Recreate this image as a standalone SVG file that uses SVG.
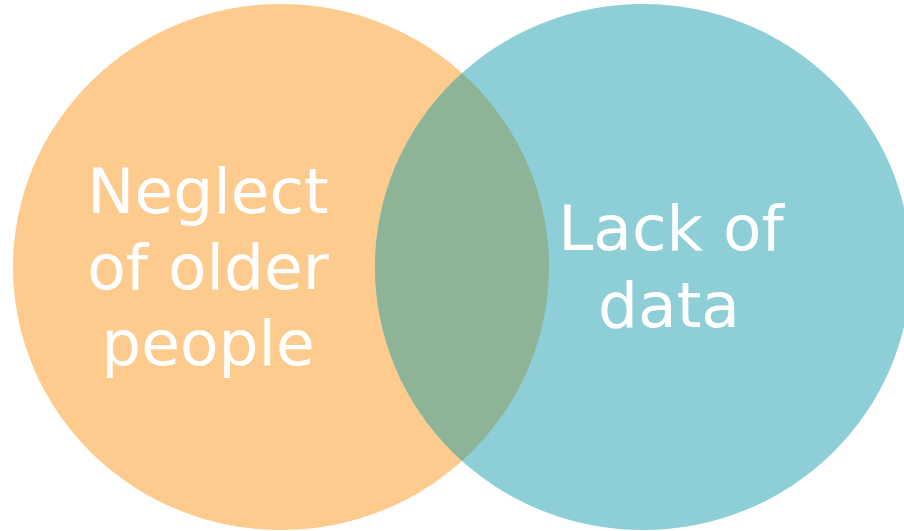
<svg xmlns="http://www.w3.org/2000/svg" width="904" height="531" viewBox="0 0 904 531">
  <style>
    .lbl { font-family: "DejaVu Sans", "Liberation Sans", sans-serif; font-size: 63px; fill: #ffffff; text-anchor: middle; }
  </style>
  <defs>
    <clipPath id="leftClip">
      <ellipse cx="281" cy="267" rx="268" ry="263"/>
    </clipPath>
  </defs>
  <rect width="904" height="531" fill="#ffffff"/>
  <g id="left-set">
    <ellipse cx="281" cy="267" rx="268" ry="263" fill="#FDCB8E"/>
  </g>
  <g id="right-set">
    <ellipse cx="643" cy="267" rx="268" ry="263" fill="#8ECFD7"/>
  </g>
  <g id="overlap">
    <ellipse cx="643" cy="267" rx="268" ry="263" fill="#8DB497" clip-path="url(#leftClip)"/>
  </g>
  <g id="left-label">
    <text class="lbl" x="208" y="213">Neglect</text>
    <text class="lbl" x="208" y="289">of older</text>
    <text class="lbl" x="208" y="365">people</text>
  </g>
  <g id="right-label">
    <text class="lbl" x="671" y="250">Lack of</text>
    <text class="lbl" x="669" y="327">data</text>
  </g>
  <g id="connectors"></g>
</svg>
